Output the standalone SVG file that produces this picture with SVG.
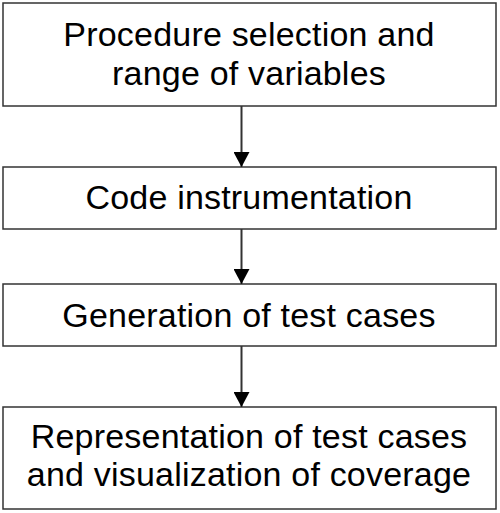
<svg xmlns="http://www.w3.org/2000/svg" width="500" height="513" viewBox="0 0 500 513">
<style>
.box{fill:#fff;stroke:#333;stroke-width:1.5}
.t{font-family:"Liberation Sans",Arial,sans-serif;font-size:34px;letter-spacing:0.2px;text-anchor:middle;fill:#000}
.c{stroke:#333;stroke-width:2;fill:none}
</style>
<defs>
<marker id="ah" markerUnits="userSpaceOnUse" markerWidth="16" markerHeight="16" refX="15" refY="8" orient="auto">
<path d="M0,0 L15,8 L0,16 Z" fill="#000"/>
</marker>
</defs>
<rect width="500" height="513" fill="#fff"/>
<g id="n1"><rect class="box" x="3" y="3" width="493" height="103"/>
<text class="t" x="249" y="46">Procedure selection and</text>
<text class="t" x="249" y="85">range of variables</text></g>
<g id="n2"><rect class="box" x="3" y="167" width="493" height="62"/>
<text class="t" x="249" y="209">Code instrumentation</text></g>
<g id="n3"><rect class="box" x="3" y="284" width="493" height="62"/>
<text class="t" x="249" y="327">Generation of test cases</text></g>
<g id="n4"><rect class="box" x="3" y="407" width="493" height="102"/>
<text class="t" x="249" y="448">Representation of test cases</text>
<text class="t" x="249" y="486">and visualization of coverage</text></g>
<g id="connectors">
<line class="c" x1="241.5" y1="106" x2="241.5" y2="167" marker-end="url(#ah)"/>
<line class="c" x1="241.5" y1="229" x2="241.5" y2="284" marker-end="url(#ah)"/>
<line class="c" x1="241.5" y1="346" x2="241.5" y2="407" marker-end="url(#ah)"/>
</g>
</svg>
